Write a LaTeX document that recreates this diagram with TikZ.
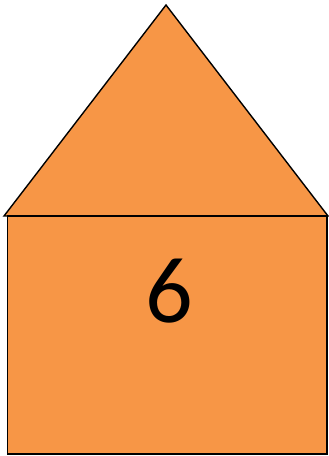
\documentclass[tikz,border=0pt]{standalone}
\usepackage{fontspec}
\setmainfont{Carlito}
\definecolor{houseorange}{HTML}{F79646}
\begin{document}
\begin{tikzpicture}[x=1pt,y=1pt,
  part/.style={fill=houseorange,draw=black,line width=1.4pt,line join=miter}]
\useasboundingbox (0,0) rectangle (329,456);
\coordinate (tl) at (4,240);
\coordinate (tr) at (328,240);
\coordinate (ap) at (166,451);
\draw[part] (tl) -- (ap) -- (tr) -- cycle;
\draw[part] (7.5,2) rectangle (327,240);
\node[font=\fontsize{94}{94}\selectfont,inner sep=0pt] (num) at (169,165) {6};
\end{tikzpicture}
\end{document}
